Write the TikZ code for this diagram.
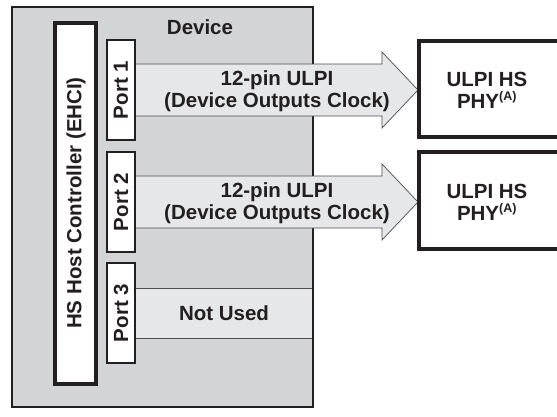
\documentclass[tikz,border=0pt]{standalone}
\usepackage{fontspec}
\setmainfont{Liberation Sans}
\definecolor{devfill}{HTML}{D3D4D6}
\definecolor{bandfill}{HTML}{E6E7E8}
\definecolor{edge}{HTML}{231F20}
\begin{document}
\begin{tikzpicture}[x=1pt,y=-1pt,
  lbl/.style={font=\fontsize{20.5}{22}\selectfont\bfseries, text=edge, align=center, inner sep=0pt},
  box/.style={draw=edge, fill=white, line width=3.2pt},
  portbox/.style={draw=edge, fill=white, line width=1.5pt},
  band/.style={draw=edge!80, fill=bandfill, line width=0.7pt}]
\useasboundingbox (0,0) rectangle (557,416);
% device
\draw[draw=edge, fill=devfill, line width=2.5pt] (12,7) rectangle (313,407);
\node[lbl] (dev) at (200,27) {Device};
% bands
\draw[band] (135,64) -- (382,64) -- (382,52) -- (418,90) -- (382,128) -- (382,116) -- (135,116);
\fill[bandfill] (135,65) rectangle (381,115);
\draw[band] (135,176) -- (382,176) -- (382,164) -- (418,202) -- (382,240) -- (382,228) -- (135,228);
\fill[bandfill] (135,177) rectangle (381,227);
\fill[bandfill] (135,288) rectangle (312,338);
\draw[band] (135,288) -- (312,288) (135,338) -- (312,338);
\node[lbl] (a1) at (277,91) {12-pin ULPI\\(Device Outputs Clock)};
\node[lbl] (a2) at (277,203) {12-pin ULPI\\(Device Outputs Clock)};
\node[lbl] (nu) at (224,313) {Not Used};
% host controller
\draw[box] (55,23) rectangle (96,384);
\node[lbl, rotate=90] (hc) at (76,203) {HS Host Controller (EHCI)};
% ports
\draw[portbox] (107,40) rectangle (135,140);
\node[lbl, rotate=90] (p1) at (121,90) {Port 1};
\draw[portbox] (107,152) rectangle (135,252);
\node[lbl, rotate=90] (p2) at (121,202) {Port 2};
\draw[portbox] (107,263) rectangle (135,363);
\node[lbl, rotate=90] (p3) at (121,313) {Port 3};
% PHYs
\draw[box] (419,41) rectangle (570,137);
\node[lbl] (phy1) at (487,90) {ULPI HS\\PHY\textsuperscript{\fontsize{12.5}{13}\selectfont(A)}};
\draw[box] (419,152) rectangle (570,249);
\node[lbl] (phy2) at (487,202) {ULPI HS\\PHY\textsuperscript{\fontsize{12.5}{13}\selectfont(A)}};
\end{tikzpicture}
\end{document}
